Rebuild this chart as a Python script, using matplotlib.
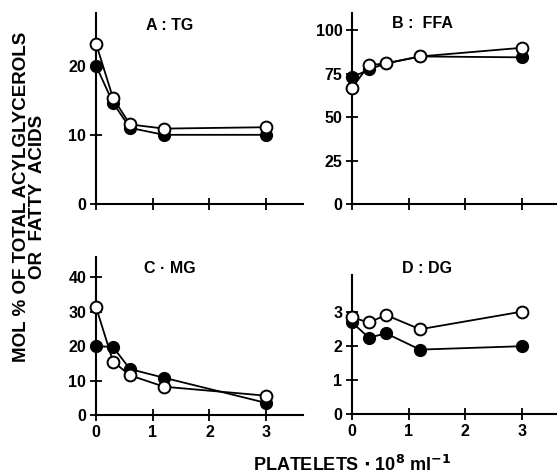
import matplotlib.pyplot as plt

plt.rcParams['font.family'] = ['Liberation Sans', 'DejaVu Sans']
plt.rcParams['font.weight'] = 'bold'

platelets = [0, 0.3, 0.6, 1.2, 3]

tg_open = [23.2, 15.3, 11.5, 10.9, 11.1]
tg_filled = [20, 14.6, 11, 10, 10]

ffa_open = [67, 80, 81, 85, 90]
ffa_filled = [73, 77.5, 81, 85, 84.5]

mg_open = [31.3, 15.5, 11.5, 8.2, 5.6]
mg_filled = [20, 19.7, 13.3, 10.8, 3.5]

dg_open = [2.85, 2.7, 2.92, 2.5, 3.02]
dg_filled = [2.7, 2.25, 2.38, 1.9, 2.0]

panels = [
    # title, open, filled, yticks, ylim, rect, title pos
    ("A : TG", tg_open, tg_filled, [0, 10, 20], 27.6,
     [0.1724, 0.5705, 0.3716, 0.402], (0.305, 0.947)),
    ("B :  FFA", ffa_open, ffa_filled, [0, 25, 50, 75, 100], 110,
     [0.632, 0.5705, 0.368, 0.402], (0.758, 0.951)),
    ("C · MG", mg_open, mg_filled, [0, 10, 20, 30, 40], 45.8,
     [0.1724, 0.1263, 0.3716, 0.3326], (0.305, 0.434)),
    ("D : DG", dg_open, dg_filled, [0, 1, 2, 3], 4.1,
     [0.632, 0.1284, 0.368, 0.2926], (0.767, 0.434)),
]

fig = plt.figure(figsize=(5.57, 4.75), dpi=100)

for i, (title, y_open, y_filled, yticks, ytop, rect, tpos) in enumerate(panels):
    ax = fig.add_axes(rect)
    xmax = 3.65 if rect[0] < 0.5 else 3.62
    ax.plot(platelets, y_filled, color='black', lw=1.3, marker='o', ms=8.5,
            mfc='black', mec='black', clip_on=False, zorder=3)
    ax.plot(platelets, y_open, color='black', lw=1.3, marker='o', ms=8.5,
            mfc='white', mec='black', mew=1.4, clip_on=False, zorder=4)
    ax.set_xlim(0, xmax)
    ax.set_ylim(0, ytop)
    ax.set_xticks([0, 1, 2, 3])
    ax.set_yticks(yticks)
    ax.set_yticklabels([str(t) for t in yticks])
    if i < 2:
        ax.set_xticklabels([])
    else:
        ax.set_xticklabels(['0', '1', '2', '3'])
    for s in ['top', 'right']:
        ax.spines[s].set_visible(False)
    for s in ['left', 'bottom']:
        ax.spines[s].set_linewidth(1.5)
    ax.tick_params(direction='inout', length=8, width=1.3, labelsize=11.5, pad=3)
    for lab in ax.get_xticklabels() + ax.get_yticklabels():
        lab.set_fontweight('bold')
    fig.text(tpos[0], tpos[1], title, ha='center', va='center', fontsize=11.5,
             fontweight='bold')

fig.text(0.053, 0.585, "MOL % OF TOTAL ACYLGLYCEROLS\nOR  FATTY  ACIDS", rotation=90,
         ha='center', va='center', fontsize=13.5, fontweight='bold', linespacing=0.95)
fig.text(0.632, 0.022, r"PLATELETS $\cdot$ 10$^{\mathbf{8}}$ ml$^{\mathbf{-1}}$", ha='center', va='center',
         fontsize=13, fontweight='bold')

fig.savefig("out.png", dpi=100)
